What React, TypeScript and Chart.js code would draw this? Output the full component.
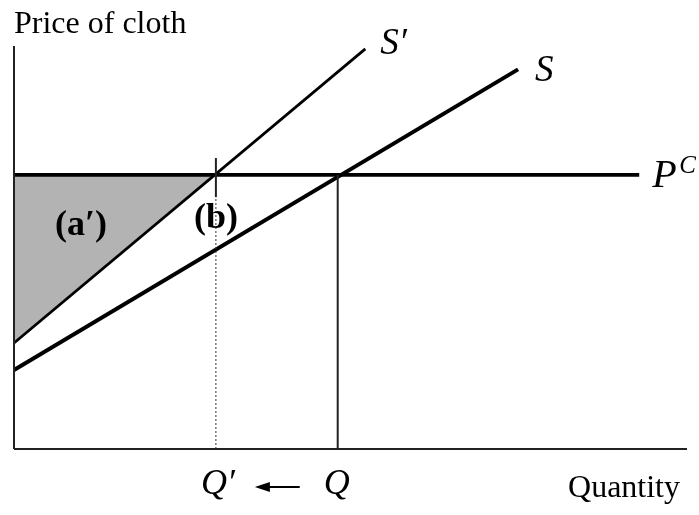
import React, { useEffect, useRef } from "react";
import { Chart, registerables } from "chart.js";

Chart.register(...registerables);

// Data (abstract units: quantity 0..100, price 0..100)
const X_MAX = 100;
const Y_MAX = 100;
const PC = 68;
const Q_PRIME = 30;
const Q = 48.1;
const PC_X = [0, 92.9];
const S_PRIME_X = [0, 52.2];
const S_PRIME_Y = [26.3, 99.3];
const S_X = [0, 74.9];
const S_Y = [19.6, 94.2];
const TICK_Y = [62.5, 72.2];

const SERIF = '"Liberation Serif", "Times New Roman", Times, serif';

const pts = (xs: number[], ys: number[]) => xs.map((x, i) => ({ x, y: ys[i] }));

const labelsPlugin = {
  id: "econLabels",
  afterDraw(chart: any) {
    const ctx = chart.ctx as CanvasRenderingContext2D;
    const xs = chart.scales.x;
    const ys = chart.scales.y;
    const px = (v: number) => xs.getPixelForValue(v);
    const py = (v: number) => ys.getPixelForValue(v);
    ctx.save();
    ctx.fillStyle = "#000";
    ctx.strokeStyle = "#000";
    ctx.textBaseline = "alphabetic";

    // axis titles
    ctx.textAlign = "left";
    ctx.font = `32px ${SERIF}`;
    ctx.fillText("Price of cloth", px(0), 33);
    ctx.textAlign = "right";
    ctx.fillText("Quantity", px(X_MAX) - 7, 497);

    // curve labels
    ctx.textAlign = "left";
    ctx.font = `italic 37px ${SERIF}`;
    ctx.fillText("S\u2032", px(S_PRIME_X[1]) + 15, py(S_PRIME_Y[1]) + 5);
    ctx.fillText("S", px(S_X[1]) + 17, py(S_Y[1]) + 12);
    ctx.font = `italic 40px ${SERIF}`;
    ctx.fillText("P", px(PC_X[1]) + 13, py(PC) + 12);
    ctx.font = `italic 25px ${SERIF}`;
    ctx.fillText("C", px(PC_X[1]) + 40, py(PC) - 2);

    // region labels
    ctx.font = `bold 36px ${SERIF}`;
    ctx.fillText("(a\u2032)", 55, 235);
    ctx.textAlign = "center";
    ctx.fillText("(b)", px(Q_PRIME), 228);

    // quantity labels
    ctx.textAlign = "left";
    ctx.font = `italic 36px ${SERIF}`;
    const base = py(0) + 45;
    ctx.fillText("Q\u2032", px(Q_PRIME) - 15, base);
    ctx.fillText("Q", px(Q) - 14, base);

    // arrow from Q to Q'
    const ay = base - 7;
    const ax0 = px(Q_PRIME) + 39;
    const ax1 = px(Q) - 38;
    ctx.lineWidth = 2;
    ctx.beginPath();
    ctx.moveTo(ax0 + 10, ay);
    ctx.lineTo(ax1, ay);
    ctx.stroke();
    ctx.beginPath();
    ctx.moveTo(ax0, ay);
    ctx.lineTo(ax0 + 15, ay - 5);
    ctx.lineTo(ax0 + 15, ay + 5);
    ctx.closePath();
    ctx.fill();
    ctx.restore();
  },
};

export default function App() {
  const ref = useRef<HTMLCanvasElement | null>(null);

  useEffect(() => {
    if (!ref.current) return;
    const line = (data: any[], extra: any = {}) => ({
      data,
      borderColor: "#000",
      borderWidth: 2,
      pointRadius: 0,
      pointHoverRadius: 0,
      fill: false,
      tension: 0,
      clip: false,
      ...extra,
    });
    const chart = new Chart(ref.current, {
      type: "line",
      data: {
        datasets: [
          // axes
          line(pts([0, 0], [0, Y_MAX]), { borderColor: "#222" }),
          line(pts([0, X_MAX], [0, 0]), { borderColor: "#222" }),
          // dotted line at Q'
          line(pts([Q_PRIME, Q_PRIME], [0, TICK_Y[0]]), {
            borderWidth: 1,
            borderDash: [2, 2],
            borderColor: "#333",
          }),
          // tick at Q'
          line(pts([Q_PRIME, Q_PRIME], TICK_Y), { borderColor: "#222" }),
          // vertical at Q
          line(pts([Q, Q], [0, PC]), { borderColor: "#222" }),
          // S' with shaded area below P^C
          line(pts(S_PRIME_X, S_PRIME_Y), {
            borderWidth: 2.8,
            fill: { target: { value: PC }, above: "rgba(0,0,0,0)", below: "#b3b3b3" },
          }),
          // S
          line(pts(S_X, S_Y), { borderWidth: 4 }),
          // P^C
          line(pts(PC_X, [PC, PC]), { borderWidth: 3.8 }),
        ],
      },
      options: {
        animation: false,
        responsive: false,
        devicePixelRatio: 1,
        layout: { padding: { left: 14, right: 12, top: 46, bottom: 66 } },
        scales: {
          x: { type: "linear", min: 0, max: X_MAX, display: false },
          y: { type: "linear", min: 0, max: Y_MAX, display: false },
        },
        plugins: {
          legend: { display: false },
          tooltip: { enabled: false },
          filler: { drawTime: "beforeDatasetsDraw" },
        },
        events: [],
      } as any,
      plugins: [labelsPlugin],
    });
    return () => chart.destroy();
  }, []);

  return (
    <div style={{ position: "absolute", left: 0, top: 0, width: 699, height: 515, background: "#fff" }}>
      <canvas ref={ref} width={699} height={515} style={{ width: 699, height: 515, display: "block" }} />
    </div>
  );
}
